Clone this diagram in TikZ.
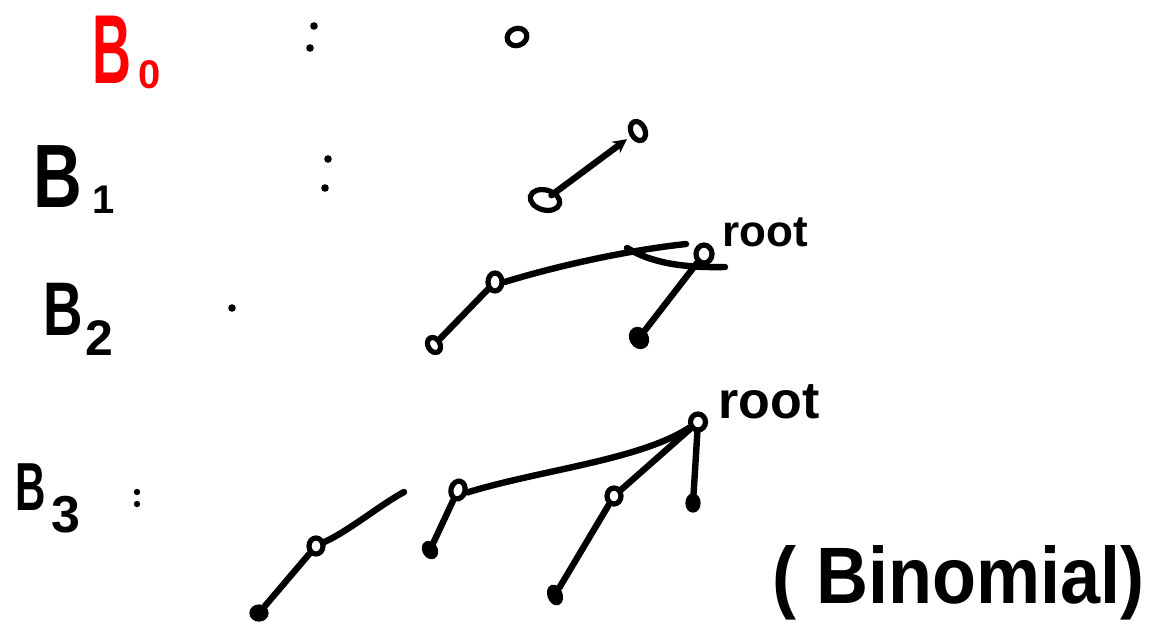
\documentclass[tikz,border=0pt]{standalone}
\usepackage{graphicx}
\usepackage{fontspec}
\setmainfont{Liberation Sans}
\usetikzlibrary{shapes.geometric,arrows.meta}
\newcommand\myfs[1]{\fontsize{#1}{#1}\selectfont}
\begin{document}
\begin{tikzpicture}[x=0.5pt,y=-0.5pt,
  stroke/.style={line width=3.2pt,line cap=round,line join=round},
  vtx/.style={ellipse,draw,line width=2.6pt,inner sep=0pt,minimum width=7pt,minimum height=8pt},
  leaf/.style={vtx,fill=black,minimum width=5pt,minimum height=7pt},
  dotmark/.style={circle,fill=black,inner sep=0pt,minimum size=3.8pt},
  blabel/.style={anchor=base west,inner sep=0pt,font=\bfseries},
  rootlbl/.style={anchor=base west,inner sep=0pt,font=\bfseries\myfs{22}}]
\useasboundingbox (0,0) rectangle (1162,632);

% ---------- labels B0..B3 ----------
\node[blabel,text=red] (lb0) at (92,83)
  {\scalebox{0.55}[1]{\myfs{49}B}\hspace{3.5pt}\raisebox{-2.5pt}{\myfs{20}0}};
\node[blabel] (lb1) at (33,207)
  {\scalebox{0.75}[1]{\myfs{45}B}\hspace{5pt}\raisebox{-3pt}{\myfs{20}1}};
\node[blabel] (lb2) at (43,335)
  {\scalebox{0.72}[1]{\myfs{38}B}\hspace{1.5pt}\raisebox{-10pt}{\myfs{25}2}};
\node[blabel] (lb3) at (15,510)
  {\scalebox{0.62}[1]{\myfs{34}B}\hspace{3pt}\raisebox{-11pt}{\myfs{26}3}};

% ---------- colons ----------
\node[dotmark] (c0a) at (314,26) {};
\node[dotmark] (c0b) at (310,48) {};
\node[dotmark] (c1a) at (328,159) {};
\node[dotmark] (c1b) at (325,188) {};
\node[dotmark] (c2a) at (232,308) {};
\node[dotmark,minimum size=3.2pt] (c3a) at (137,492) {};
\node[dotmark,minimum size=3.2pt] (c3b) at (137,504) {};

% ---------- B0 ----------
\node[vtx,minimum width=10pt,minimum height=8.5pt,rotate=20] (n0) at (517,37) {};

% ---------- B1 ----------
\node[vtx,minimum width=15pt,minimum height=10pt,rotate=-15] (a1) at (545,200) {};
\node[vtx,minimum width=7pt,minimum height=10pt,rotate=25] (b1) at (638,131) {};
\draw[stroke,-{Stealth[length=7pt,width=7pt]},shorten <=-3pt,shorten >=2pt] (a1) -- (b1);

% ---------- B2 ----------
\node[vtx,minimum width=8pt,minimum height=9pt] (r2) at (704,254) {};
\node[vtx,minimum width=7pt,minimum height=9pt] (c21) at (495,282) {};
\node[vtx,minimum width=6pt,minimum height=8pt,rotate=30] (c22) at (434,345) {};
\node[leaf,minimum width=7pt,minimum height=9pt,rotate=30] (c23) at (639,338) {};
\coordinate (e2a) at (686,244);
\coordinate (e2b) at (627,248);
\coordinate (e2c) at (725,267);
\draw[stroke] (c22) -- (c21);
\draw[stroke] (c21.east) .. controls (560,265) and (630,250) .. (e2a);
\draw[stroke] (e2b) .. controls (650,262) and (680,268) .. (e2c);
\draw[stroke] (r2) -- (c23);
\node[rootlbl] (root2) at (722,246) {root};

% ---------- B3 ----------
\node[vtx,minimum width=7.5pt,minimum height=8pt] (r3) at (698,422) {};
\node[vtx,minimum width=7pt,minimum height=9pt,rotate=-15] (c31) at (458,490) {};
\node[vtx,minimum width=7pt,minimum height=8pt] (c32) at (614,496) {};
\node[leaf,minimum width=5pt,minimum height=7pt] (c33) at (693,503) {};
\node[vtx,minimum width=7pt,minimum height=8pt] (c34) at (316,546) {};
\node[leaf,minimum width=5pt,minimum height=7pt,rotate=30] (g1) at (430,550) {};
\node[leaf,minimum width=5pt,minimum height=8pt,rotate=20] (g2) at (555,595) {};
\node[leaf,minimum width=7pt,minimum height=6pt] (g3) at (259,613) {};
\coordinate (e3a) at (404,492);
\draw[stroke] (c34) .. controls (350,530) and (380,505) .. (e3a);
\draw[stroke] (c31.east) .. controls (540,470) and (640,460) .. (r3);
\draw[stroke] (r3) -- (c32);
\draw[stroke] (r3) -- (c33);
\draw[stroke] (c31) -- (g1);
\draw[stroke] (c32) -- (g2);
\draw[stroke] (c34) -- (g3);
\node[rootlbl,font=\bfseries\myfs{26}] (root3) at (718,418) {root};

% ---------- caption ----------
\node[anchor=base west,inner sep=0pt,font=\bfseries\myfs{40}] (cap) at (772,603)
  {\scalebox{0.9}[1]{( Binomial)}};
\end{tikzpicture}
\end{document}
